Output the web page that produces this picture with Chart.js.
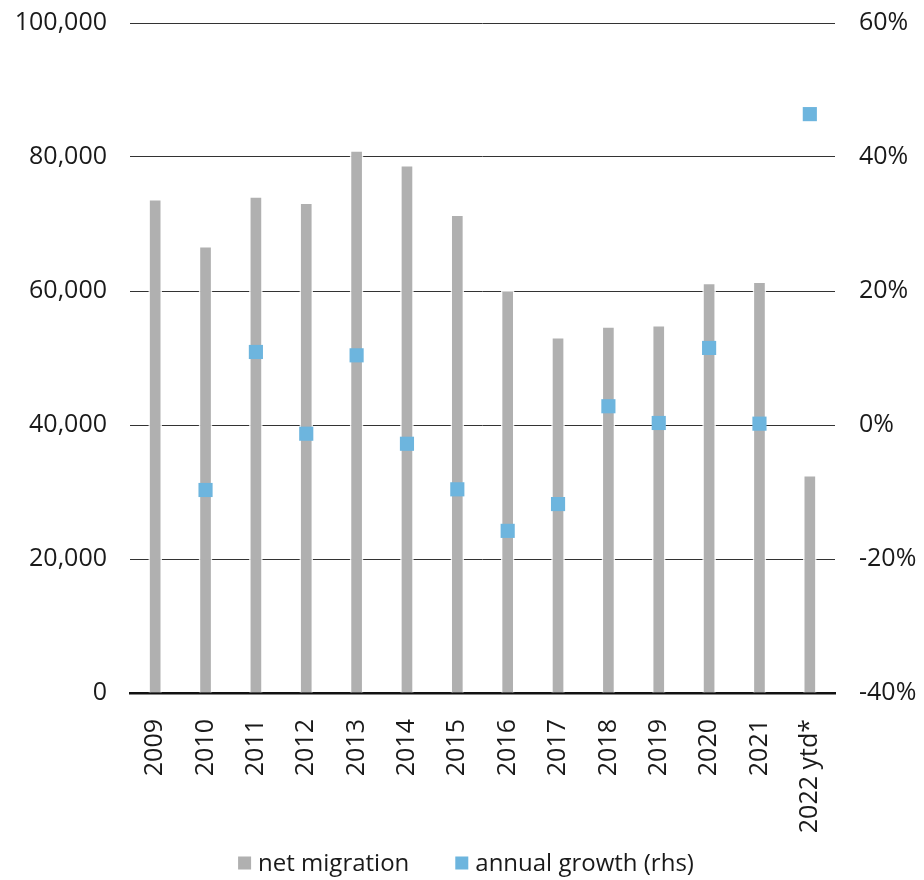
<!DOCTYPE html>
<html>
<head>
<meta charset="utf-8">
<script src="https://cdn.jsdelivr.net/npm/chart.js@4/dist/chart.umd.min.js"></script>
<style>
  html, body { margin: 0; padding: 0; background: #ffffff; }
  #wrap { width: 924px; height: 880px; }
</style>
</head>
<body>
<div id="wrap"><canvas id="chart" width="924" height="880"></canvas></div>
<script>
// Categories and series
const years = ['2009', '2010', '2011', '2012', '2013', '2014', '2015', '2016', '2017', '2018', '2019', '2020', '2021', '2022 ytd*'];
const netMigration = [73600, 66600, 74000, 73100, 80900, 78700, 71300, 60000, 53000, 54600, 54800, 61100, 61300, 32400];
const annualGrowth = [null, -9.7, 10.9, -1.3, 10.4, -2.8, -9.6, -15.8, -11.8, 2.8, 0.3, 11.5, 0.2, 46.4];

// Axis ranges and ticks
const leftTicks = [0, 20000, 40000, 60000, 80000, 100000];
const rightTicks = [-40, -20, 0, 20, 40, 60];

const FONT = '"Open Sans", "Noto Sans", sans-serif';
const TEXT = '#1a1a1a';
const GREY = '#b0b0b0';
const BLUE = '#6db5de';

// Legend drawn below the axis labels, centred on the canvas
const bottomLegend = {
  id: 'bottomLegend',
  afterDraw(chart) {
    const ctx = chart.ctx;
    const items = chart.data.datasets.map(ds => ({ text: ds.label, color: ds.legendColor }));
    const box = 13, gapText = 7, gapItem = 46, y = 863;
    ctx.save();
    ctx.font = '24px ' + FONT;
    ctx.textBaseline = 'middle';
    let total = 0;
    items.forEach((it, i) => {
      it.w = ctx.measureText(it.text).width;
      total += box + gapText + it.w + (i ? gapItem : 0);
    });
    let x = chart.width / 2 - total / 2 + 4;
    items.forEach((it, i) => {
      if (i) x += gapItem;
      ctx.fillStyle = it.color;
      ctx.fillRect(x, y - box / 2, box, box);
      x += box + gapText;
      ctx.fillStyle = TEXT;
      ctx.fillText(it.text, x, y + 1);
      x += it.w;
    });
    ctx.restore();
  }
};

// Fixed-size value axes: no extra room reserved for half tick labels
function fixVertical(width) {
  return function (scale) {
    scale.width = width;
    scale.paddingTop = 0;
    scale.paddingBottom = 0;
  };
}

new Chart(document.getElementById('chart'), {
  data: {
    labels: years,
    datasets: [
      {
        type: 'bar',
        label: 'net migration',
        legendColor: GREY,
        data: netMigration,
        yAxisID: 'y',
        backgroundColor: GREY,
        borderColor: 'rgba(255,255,255,0.85)',
        borderWidth: { left: 1.5, right: 1.5, top: 1, bottom: 0 },
        barThickness: 13,
        order: 1
      },
      {
        type: 'line',
        label: 'annual growth (rhs)',
        legendColor: BLUE,
        data: annualGrowth,
        yAxisID: 'y1',
        showLine: false,
        pointStyle: 'rect',
        pointRadius: 10,
        pointHoverRadius: 10,
        pointBackgroundColor: BLUE,
        pointBorderWidth: 0,
        backgroundColor: BLUE,
        borderColor: BLUE,
        order: 0
      }
    ]
  },
  options: {
    responsive: false,
    animation: false,
    layout: { padding: { top: 23, bottom: 40, left: 0, right: 0 } },
    plugins: {
      legend: { display: false },
      tooltip: { enabled: false }
    },
    scales: {
      x: {
        grid: { display: false, drawTicks: false },
        border: { display: true, color: '#111111', width: 2.5 },
        ticks: {
          color: TEXT,
          font: { family: FONT, size: 25 },
          minRotation: 90,
          maxRotation: 90,
          padding: 26,
          autoSkip: false
        },
        afterFit(scale) { scale.height = 147; }
      },
      y: {
        position: 'left',
        min: 0,
        max: 100000,
        afterBuildTicks(scale) { scale.ticks = leftTicks.map(v => ({ value: v })); },
        grid: { color: '#333333', lineWidth: 1, drawTicks: false },
        border: { display: false },
        ticks: {
          color: TEXT,
          font: { family: FONT, size: 25 },
          padding: 23,
          callback: v => v.toLocaleString('en-US')
        },
        afterFit: fixVertical(130)
      },
      y1: {
        position: 'right',
        min: -40,
        max: 60,
        afterBuildTicks(scale) { scale.ticks = rightTicks.map(v => ({ value: v })); },
        grid: { display: false, drawTicks: false },
        border: { display: false },
        ticks: {
          color: TEXT,
          font: { family: FONT, size: 25 },
          padding: 24,
          callback: v => v + '%'
        },
        afterFit: fixVertical(89)
      }
    }
  },
  plugins: [bottomLegend]
});
</script>
</body>
</html>
